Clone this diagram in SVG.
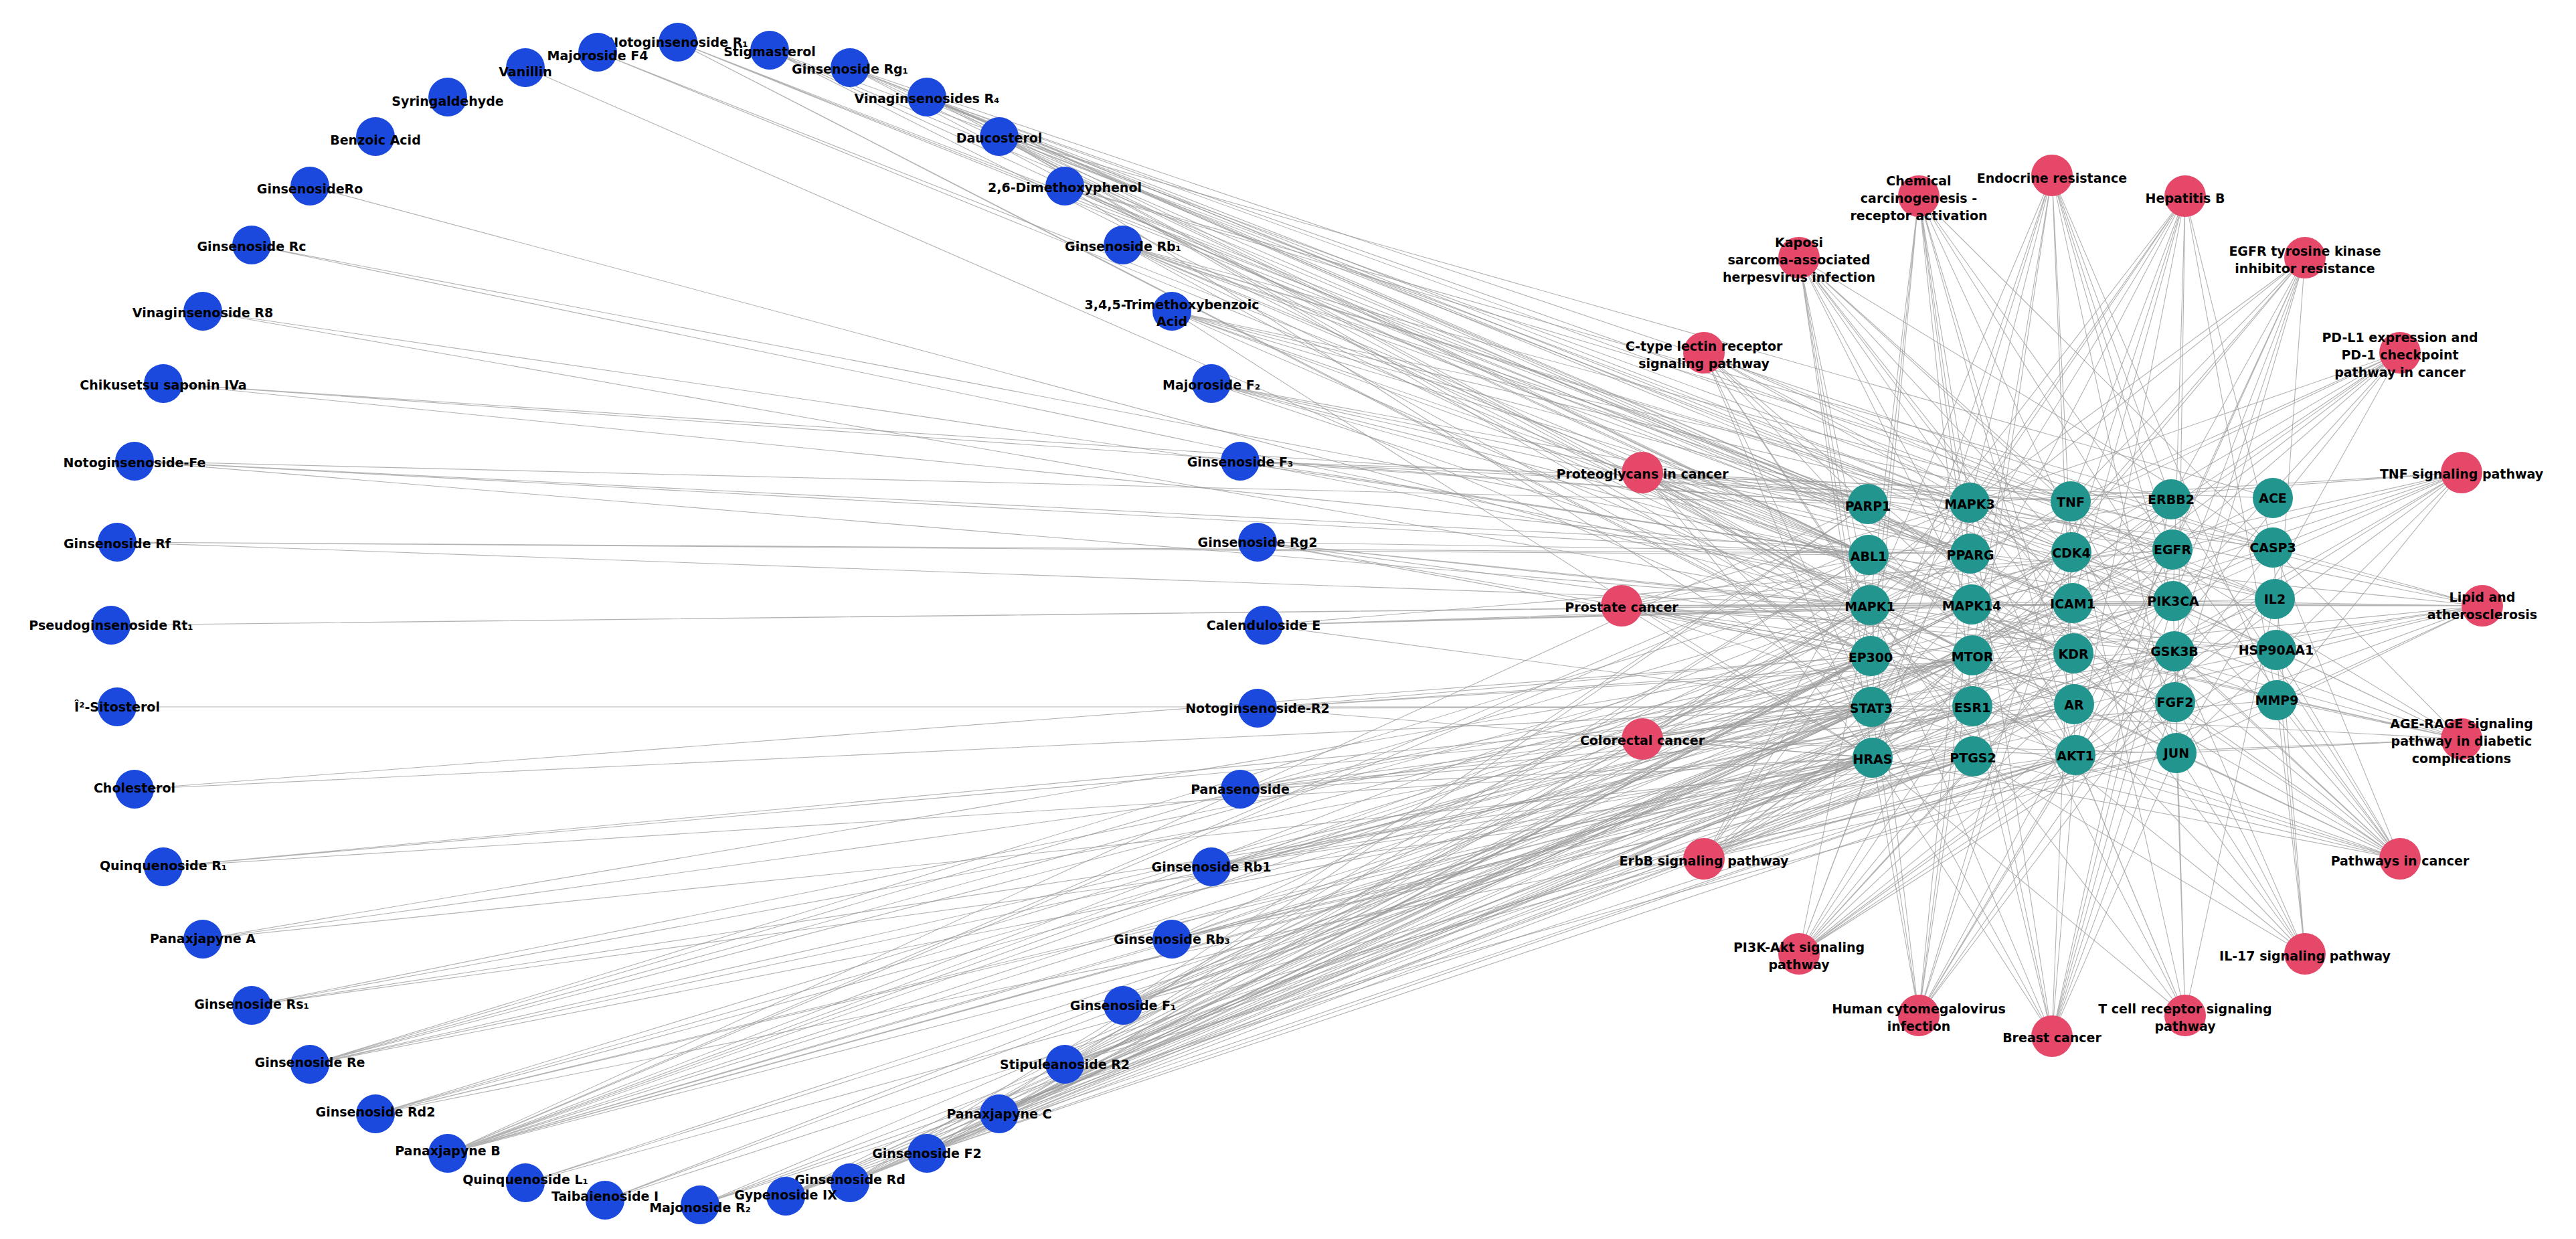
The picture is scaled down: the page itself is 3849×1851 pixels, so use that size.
<svg xmlns="http://www.w3.org/2000/svg" width="3849" height="1851" viewBox="0 0 3849 1851">
<style>
.e{stroke:#9a9a9a;stroke-width:1.1;fill:none;opacity:.75}
.c{fill:#1b48dd}
.t{fill:#22958f}
.p{fill:#e6486a}
text{font-family:"DejaVu Sans",Verdana,sans-serif;font-weight:bold;font-size:19px;fill:#000;text-anchor:middle;dominant-baseline:central}
</style>
<rect width="3849" height="1851" fill="#fff"/>
<g id="connectors">
<path class="e" d="M2791 753L1013 63 2944 827M3097 901L1013 63 2795 980M2947 1055L1013 63"/>
<path class="e" d="M2792 829L1150 75 2944 827M3099 1052L1150 75 3399 895"/>
<path class="e" d="M2791 753L1270 101 2794 904M2943 751L1270 101 2946 903M3095 825L1270 101 3098 976M3247 898L1270 101 3396 818"/>
<path class="e" d="M2791 753L1385 145 2792 829M2944 827L1385 145 2947 979M3094 749L1385 145 3097 901M3246 821L1385 145 3401 971"/>
<path class="e" d="M2792 829L1493 204 2794 904M2943 751L1493 204 2947 1055M3095 825L1493 204 3101 1128M3249 973L1493 204 3396 744"/>
<path class="e" d="M2791 753L1591 278 2946 903M3097 901L1591 278 3244 746M2796 1056L1591 278 3396 818"/>
<path class="e" d="M2791 753L1678 366 2792 829M2794 904L1678 366 2943 751M2944 827L1678 366 3094 749M3098 976L1678 366 3247 898M3399 895L1678 366 2795 980"/>
<path class="e" d="M2792 829L1751 465 2944 827M2946 903L1751 465 3095 825M3099 1052L1751 465 3246 821M3396 818L1751 465 2798 1132"/>
<path class="e" d="M2791 753L1810 573 2794 904M2944 827L1810 573 3097 901M3249 973L1810 573 3399 895"/>
<path class="e" d="M2791 753L1853 689 2792 829M2946 903L1853 689 3094 749M3247 898L1853 689 3396 744"/>
<path class="e" d="M2794 904L1879 810 2795 980M2944 827L1879 810 3098 976M3250 1049L1879 810 3401 971"/>
<path class="e" d="M2794 904L1888 934 2796 1056M2946 903L1888 934 3097 901M3246 821L1888 934 3399 895"/>
<path class="e" d="M2795 980L1879 1058 2796 1056M2947 1055L1879 1058 3098 976M3249 973L1879 1058 2798 1132"/>
<path class="e" d="M2796 1056L1853 1179 2798 1132M2947 979L1853 1179 3099 1052M3247 898L1853 1179 3402 1046"/>
<path class="e" d="M2795 980L1810 1295 2796 1056M2798 1132L1810 1295 2947 1055M2948 1130L1810 1295 3098 976M3247 898L1810 1295 3401 971"/>
<path class="e" d="M2794 904L1751 1403 2796 1056M2798 1132L1751 1403 2947 979M2948 1130L1751 1403 3099 1052M3101 1128L1751 1403 3250 1049"/>
<path class="e" d="M2791 753L1678 1502 2794 904M2795 980L1678 1502 2796 1056M2798 1132L1678 1502 2946 903M2947 1055L1678 1502 3097 901M3101 1128L1678 1502 3249 973"/>
<path class="e" d="M2792 829L1591 1590 2795 980M2796 1056L1591 1590 2798 1132M2944 827L1591 1590 2947 979M2948 1130L1591 1590 3095 825M3099 1052L1591 1590 3252 1125"/>
<path class="e" d="M2794 904L1493 1664 2795 980M2796 1056L1493 1664 2798 1132M2946 903L1493 1664 2947 1055M2948 1130L1493 1664 3098 976M3246 821L1493 1664 3396 744"/>
<path class="e" d="M2791 753L1385 1723 2795 980M2796 1056L1385 1723 2798 1132M2947 979L1385 1723 2948 1130M3094 749L1385 1723 3101 1128M3244 746L1385 1723 3402 1046"/>
<path class="e" d="M2792 829L1270 1767 2794 904M2796 1056L1270 1767 2798 1132M2946 903L1270 1767 2947 1055M3097 901L1270 1767 3099 1052M3249 973L1270 1767 3396 818"/>
<path class="e" d="M2795 980L1174 1787 2796 1056M2798 1132L1174 1787 2947 979M2948 1130L1174 1787 3101 1128M3247 898L1174 1787 3399 895"/>
<path class="e" d="M2796 1056L1046 1800 2798 1132M2948 1130L1046 1800 3101 1128"/>
<path class="e" d="M2796 1056L904 1793 2948 1130M3098 976L904 1793"/>
<path class="e" d="M2798 1132L785 1767 2947 1055M3101 1128L785 1767"/>
<path class="e" d="M2791 753L669 1723 2792 829M2794 904L669 1723 2795 980M2796 1056L669 1723 2798 1132M2943 751L669 1723 2946 903M2947 979L669 1723 2947 1055M2948 1130L669 1723 3095 825M3099 1052L669 1723 3249 973"/>
<path class="e" d="M2795 980L561 1664 2796 1056M2798 1132L561 1664 2947 979M3099 1052L561 1664 3252 1125"/>
<path class="e" d="M2794 904L463 1590 2795 980M2796 1056L463 1590 2798 1132M2944 827L463 1590 2947 1055M3097 901L463 1590 3246 821"/>
<path class="e" d="M2796 1056L376 1502 2798 1132M2947 979L376 1502 3101 1128"/>
<path class="e" d="M2795 980L303 1403 2796 1056M2948 1130L303 1403"/>
<path class="e" d="M2796 1056L244 1295 2798 1132M2947 1055L244 1295"/>
<path class="e" d="M2795 980L201 1179 2796 1056"/>
<path class="e" d="M175 1056L2796 1056"/>
<path class="e" d="M2794 904L166 934 2946 903"/>
<path class="e" d="M2792 829L175 810 2794 904M2944 827L175 810"/>
<path class="e" d="M2791 753L201 689 2792 829M2794 904L201 689 2944 827"/>
<path class="e" d="M2791 753L244 573 2792 829M2943 751L244 573"/>
<path class="e" d="M2792 829L303 465 2794 904"/>
<path class="e" d="M2792 829L376 366 2946 903"/>
<path class="e" d="M463 278L2794 904"/>
<path class="e" d="M785 101L2795 980"/>
<path class="e" d="M2792 829L893 78 3098 976"/>
<path class="e" d="M2794 904L3066 262 2798 1132M2943 751L3066 262 2947 979M2947 1055L3066 262 3101 1128M3244 746L3066 262 3246 821M3247 898L3066 262 3252 1125M3402 1046L3066 262 2796 1056M3095 825L3066 262"/>
<path class="e" d="M2794 904L3265 293 2796 1056M2795 980L3265 293 2943 751M2946 903L3265 293 3094 749M3095 825L3265 293 3101 1128M3247 898L3265 293 3252 1125M3396 818L3265 293 3402 1046M3097 901L3265 293"/>
<path class="e" d="M2794 904L3444 385 2796 1056M2798 1132L3444 385 2943 751M2947 979L3444 385 3101 1128M3244 746L3444 385 3246 821M3247 898L3444 385 3249 973M3250 1049L3444 385 3401 971"/>
<path class="e" d="M2794 904L3586 527 2796 1056M2798 1132L3586 527 2943 751M2946 903L3586 527 2947 979M3101 1128L3586 527 3246 821M3247 898L3586 527 3252 1125M3094 749L3586 527"/>
<path class="e" d="M2794 904L3678 706 2943 751M2946 903L3678 706 2948 1130M3094 749L3678 706 3097 901M3101 1128L3678 706 3247 898M3249 973L3678 706 3252 1125M3396 818L3678 706 3402 1046"/>
<path class="e" d="M2794 904L3709 905 2796 1056M2798 1132L3709 905 2943 751M2944 827L3709 905 2946 903M2947 979L3709 905 3094 749M3097 901L3709 905 3101 1128M3247 898L3709 905 3249 973M3252 1125L3709 905 3396 818M3401 971L3709 905 3402 1046"/>
<path class="e" d="M2794 904L3678 1104 2796 1056M2943 751L3678 1104 2946 903M3094 749L3678 1104 3097 901M3101 1128L3678 1104 3247 898M3252 1125L3678 1104 3396 818M3402 1046L3678 1104 3098 976"/>
<path class="e" d="M2791 753L3586 1283 2792 829M2794 904L3586 1283 2796 1056M2798 1132L3586 1283 2943 751M2947 1055L3586 1283 2948 1130M3095 825L3586 1283 3099 1052M3101 1128L3586 1283 3244 746M3246 821L3586 1283 3247 898M3249 973L3586 1283 3250 1049M3252 1125L3586 1283 3396 818M3401 971L3586 1283 3402 1046"/>
<path class="e" d="M2794 904L3444 1425 2943 751M2946 903L3444 1425 2948 1130M3094 749L3444 1425 3249 973M3252 1125L3444 1425 3396 818M3402 1046L3444 1425 3401 971"/>
<path class="e" d="M2794 904L3265 1517 2798 1132M2943 751L3265 1517 2946 903M3094 749L3265 1517 3101 1128M3247 898L3265 1517 3252 1125M3399 895L3265 1517"/>
<path class="e" d="M2794 904L3066 1548 2796 1056M2798 1132L3066 1548 2943 751M2947 979L3066 1548 2947 1055M3095 825L3066 1548 3101 1128M3244 746L3066 1548 3246 821M3247 898L3066 1548 3249 973M3250 1049L3066 1548 3252 1125"/>
<path class="e" d="M2794 904L2867 1517 2796 1056M2798 1132L2867 1517 2943 751M2946 903L2867 1517 2947 979M3094 749L2867 1517 3095 825M3101 1128L2867 1517 3246 821M3247 898L2867 1517 3249 973M3396 818L2867 1517"/>
<path class="e" d="M2798 1132L2688 1425 2943 751M2947 979L2688 1425 3095 825M3098 976L2688 1425 3101 1128M3244 746L2688 1425 3246 821M3247 898L2688 1425 3249 973M3250 1049L2688 1425 3399 895M3401 971L2688 1425 2794 904"/>
<path class="e" d="M2792 829L2546 1283 2794 904M2798 1132L2546 1283 2943 751M2947 979L2546 1283 3101 1128M3244 746L2546 1283 3246 821M3247 898L2546 1283 3249 973M3252 1125L2546 1283 2796 1056"/>
<path class="e" d="M2794 904L2454 1104 2798 1132M2943 751L2454 1104 2947 979M3101 1128L2454 1104 3247 898M3249 973L2454 1104 3252 1125M3396 818L2454 1104 2796 1056"/>
<path class="e" d="M2794 904L2423 905 2798 1132M2943 751L2423 905 2947 979M3099 1052L2423 905 3101 1128M3244 746L2423 905 3246 821M3247 898L2423 905 3249 973M3250 1049L2423 905 3401 971M2795 980L2423 905"/>
<path class="e" d="M2794 904L2454 706 2796 1056M2798 1132L2454 706 2943 751M2947 979L2454 706 2947 1055M3094 749L2454 706 3098 976M3101 1128L2454 706 3244 746M3246 821L2454 706 3247 898M3250 1049L2454 706 3396 818M3402 1046L2454 706"/>
<path class="e" d="M2794 904L2546 527 2796 1056M2798 1132L2546 527 2943 751M2946 903L2546 527 3094 749M3101 1128L2546 527 3247 898M3252 1125L2546 527 3399 895M2948 1130L2546 527"/>
<path class="e" d="M2794 904L2688 385 2796 1056M2798 1132L2688 385 2943 751M2946 903L2688 385 3094 749M3095 825L2688 385 3097 901M3101 1128L2688 385 3247 898M3252 1125L2688 385 3396 818M2795 980L2688 385"/>
<path class="e" d="M2794 904L2867 293 2796 1056M2795 980L2867 293 2943 751M2946 903L2867 293 2947 1055M2944 827L2867 293 3099 1052M3101 1128L2867 293 3246 821M3247 898L2867 293 3252 1125M3396 818L2867 293"/>
</g>
<g id="compounds">
<g id="n-notoginsenoside-r1"><circle class="c" cx="1013" cy="63" r="29"/><text x="1013" y="63">Notoginsenoside R₁</text></g>
<g id="n-stigmasterol"><circle class="c" cx="1150" cy="75" r="29"/><text x="1150" y="77">Stigmasterol</text></g>
<g id="n-ginsenoside-rg1"><circle class="c" cx="1270" cy="101" r="29"/><text x="1270" y="103">Ginsenoside Rg₁</text></g>
<g id="n-vinaginsenosides-r4"><circle class="c" cx="1385" cy="145" r="29"/><text x="1385" y="147">Vinaginsenosides R₄</text></g>
<g id="n-daucosterol"><circle class="c" cx="1493" cy="204" r="29"/><text x="1493" y="206">Daucosterol</text></g>
<g id="n-dimethoxyphenol"><circle class="c" cx="1591" cy="278" r="29"/><text x="1591" y="280">2,6-Dimethoxyphenol</text></g>
<g id="n-ginsenoside-rb1-sub"><circle class="c" cx="1678" cy="366" r="29"/><text x="1678" y="368">Ginsenoside Rb₁</text></g>
<g id="n-trimethoxybenzoic-acid"><circle class="c" cx="1751" cy="465" r="29"/><text x="1751" y="467"><tspan x="1751" dy="-12">3,4,5-Trimethoxybenzoic</tspan><tspan x="1751" dy="25">Acid</tspan></text></g>
<g id="n-majoroside-f2"><circle class="c" cx="1810" cy="573" r="29"/><text x="1810" y="575">Majoroside F₂</text></g>
<g id="n-ginsenoside-f3"><circle class="c" cx="1853" cy="689" r="29"/><text x="1853" y="690">Ginsenoside F₃</text></g>
<g id="n-ginsenoside-rg2"><circle class="c" cx="1879" cy="810" r="29"/><text x="1879" y="810">Ginsenoside Rg2</text></g>
<g id="n-calenduloside-e"><circle class="c" cx="1888" cy="934" r="29"/><text x="1888" y="934">Calenduloside E</text></g>
<g id="n-notoginsenoside-r2"><circle class="c" cx="1879" cy="1058" r="29"/><text x="1879" y="1058">Notoginsenoside-R2</text></g>
<g id="n-panasenoside"><circle class="c" cx="1853" cy="1179" r="29"/><text x="1853" y="1179">Panasenoside</text></g>
<g id="n-ginsenoside-rb1"><circle class="c" cx="1810" cy="1295" r="29"/><text x="1810" y="1295">Ginsenoside Rb1</text></g>
<g id="n-ginsenoside-rb3"><circle class="c" cx="1751" cy="1403" r="29"/><text x="1751" y="1403">Ginsenoside Rb₃</text></g>
<g id="n-ginsenoside-f1"><circle class="c" cx="1678" cy="1502" r="29"/><text x="1678" y="1502">Ginsenoside F₁</text></g>
<g id="n-stipuleanoside-r2"><circle class="c" cx="1591" cy="1590" r="29"/><text x="1591" y="1590">Stipuleanoside R2</text></g>
<g id="n-panaxjapyne-c"><circle class="c" cx="1493" cy="1664" r="29"/><text x="1493" y="1664">Panaxjapyne C</text></g>
<g id="n-ginsenoside-f2"><circle class="c" cx="1385" cy="1723" r="29"/><text x="1385" y="1723">Ginsenoside F2</text></g>
<g id="n-ginsenoside-rd"><circle class="c" cx="1270" cy="1767" r="29"/><text x="1270" y="1762">Ginsenoside Rd</text></g>
<g id="n-gypenoside-ix"><circle class="c" cx="1174" cy="1787" r="29"/><text x="1174" y="1785">Gypenoside IX</text></g>
<g id="n-majonoside-r2"><circle class="c" cx="1046" cy="1800" r="29"/><text x="1046" y="1804">Majonoside R₂</text></g>
<g id="n-taibaienoside-i"><circle class="c" cx="904" cy="1793" r="29"/><text x="904" y="1787">Taibaienoside I</text></g>
<g id="n-quinquenoside-l1"><circle class="c" cx="785" cy="1767" r="29"/><text x="785" y="1762">Quinquenoside L₁</text></g>
<g id="n-panaxjapyne-b"><circle class="c" cx="669" cy="1723" r="29"/><text x="669" y="1719">Panaxjapyne B</text></g>
<g id="n-ginsenoside-rd2"><circle class="c" cx="561" cy="1664" r="29"/><text x="561" y="1661">Ginsenoside Rd2</text></g>
<g id="n-ginsenoside-re"><circle class="c" cx="463" cy="1590" r="29"/><text x="463" y="1587">Ginsenoside Re</text></g>
<g id="n-ginsenoside-rs1"><circle class="c" cx="376" cy="1502" r="29"/><text x="376" y="1500">Ginsenoside Rs₁</text></g>
<g id="n-panaxjapyne-a"><circle class="c" cx="303" cy="1403" r="29"/><text x="303" y="1402">Panaxjapyne A</text></g>
<g id="n-quinquenoside-r1"><circle class="c" cx="244" cy="1295" r="29"/><text x="244" y="1293">Quinquenoside R₁</text></g>
<g id="n-cholesterol"><circle class="c" cx="201" cy="1179" r="29"/><text x="201" y="1177">Cholesterol</text></g>
<g id="n-sitosterol"><circle class="c" cx="175" cy="1056" r="29"/><text x="175" y="1056">Î²-Sitosterol</text></g>
<g id="n-pseudoginsenoside-rt1"><circle class="c" cx="166" cy="934" r="29"/><text x="166" y="934">Pseudoginsenoside Rt₁</text></g>
<g id="n-ginsenoside-rf"><circle class="c" cx="175" cy="810" r="29"/><text x="175" y="812">Ginsenoside Rf</text></g>
<g id="n-notoginsenoside-fe"><circle class="c" cx="201" cy="689" r="29"/><text x="201" y="691">Notoginsenoside-Fe</text></g>
<g id="n-chikusetsu-saponin-iva"><circle class="c" cx="244" cy="573" r="29"/><text x="244" y="575">Chikusetsu saponin IVa</text></g>
<g id="n-vinaginsenoside-r8"><circle class="c" cx="303" cy="465" r="29"/><text x="303" y="467">Vinaginsenoside R8</text></g>
<g id="n-ginsenoside-rc"><circle class="c" cx="376" cy="366" r="29"/><text x="376" y="368">Ginsenoside Rc</text></g>
<g id="n-ginsenoside-ro"><circle class="c" cx="463" cy="278" r="29"/><text x="463" y="282">GinsenosideRo</text></g>
<g id="n-benzoic-acid"><circle class="c" cx="561" cy="204" r="29"/><text x="561" y="209">Benzoic Acid</text></g>
<g id="n-syringaldehyde"><circle class="c" cx="669" cy="145" r="29"/><text x="669" y="151">Syringaldehyde</text></g>
<g id="n-vanillin"><circle class="c" cx="785" cy="101" r="29"/><text x="785" y="107">Vanillin</text></g>
<g id="n-majoroside-f4"><circle class="c" cx="893" cy="78" r="29"/><text x="893" y="83">Majoroside F4</text></g>
</g>
<g id="targets">
<g id="n-parp1"><circle class="t" cx="2791" cy="753" r="30"/><text x="2791" y="756">PARP1</text></g>
<g id="n-abl1"><circle class="t" cx="2792" cy="829" r="30"/><text x="2792" y="831">ABL1</text></g>
<g id="n-mapk1"><circle class="t" cx="2794" cy="904" r="30"/><text x="2794" y="906">MAPK1</text></g>
<g id="n-ep300"><circle class="t" cx="2795" cy="980" r="30"/><text x="2795" y="982">EP300</text></g>
<g id="n-stat3"><circle class="t" cx="2796" cy="1056" r="30"/><text x="2796" y="1058">STAT3</text></g>
<g id="n-hras"><circle class="t" cx="2798" cy="1132" r="30"/><text x="2798" y="1134">HRAS</text></g>
<g id="n-mapk3"><circle class="t" cx="2943" cy="751" r="30"/><text x="2943" y="753">MAPK3</text></g>
<g id="n-pparg"><circle class="t" cx="2944" cy="827" r="30"/><text x="2944" y="829">PPARG</text></g>
<g id="n-mapk14"><circle class="t" cx="2946" cy="903" r="30"/><text x="2946" y="905">MAPK14</text></g>
<g id="n-mtor"><circle class="t" cx="2947" cy="979" r="30"/><text x="2947" y="981">MTOR</text></g>
<g id="n-esr1"><circle class="t" cx="2947" cy="1055" r="30"/><text x="2947" y="1057">ESR1</text></g>
<g id="n-ptgs2"><circle class="t" cx="2948" cy="1130" r="30"/><text x="2948" y="1132">PTGS2</text></g>
<g id="n-tnf"><circle class="t" cx="3094" cy="749" r="30"/><text x="3094" y="750">TNF</text></g>
<g id="n-cdk4"><circle class="t" cx="3095" cy="825" r="30"/><text x="3095" y="826">CDK4</text></g>
<g id="n-icam1"><circle class="t" cx="3097" cy="901" r="30"/><text x="3097" y="902">ICAM1</text></g>
<g id="n-kdr"><circle class="t" cx="3098" cy="976" r="30"/><text x="3098" y="977">KDR</text></g>
<g id="n-ar"><circle class="t" cx="3099" cy="1052" r="30"/><text x="3099" y="1053">AR</text></g>
<g id="n-akt1"><circle class="t" cx="3101" cy="1128" r="30"/><text x="3101" y="1129">AKT1</text></g>
<g id="n-erbb2"><circle class="t" cx="3244" cy="746" r="30"/><text x="3244" y="746">ERBB2</text></g>
<g id="n-egfr"><circle class="t" cx="3246" cy="821" r="30"/><text x="3246" y="821">EGFR</text></g>
<g id="n-pik3ca"><circle class="t" cx="3247" cy="898" r="30"/><text x="3247" y="898">PIK3CA</text></g>
<g id="n-gsk3b"><circle class="t" cx="3249" cy="973" r="30"/><text x="3249" y="973">GSK3B</text></g>
<g id="n-fgf2"><circle class="t" cx="3250" cy="1049" r="30"/><text x="3250" y="1049">FGF2</text></g>
<g id="n-jun"><circle class="t" cx="3252" cy="1125" r="30"/><text x="3252" y="1125">JUN</text></g>
<g id="n-ace"><circle class="t" cx="3396" cy="744" r="30"/><text x="3396" y="744">ACE</text></g>
<g id="n-casp3"><circle class="t" cx="3396" cy="818" r="30"/><text x="3396" y="818">CASP3</text></g>
<g id="n-il2"><circle class="t" cx="3399" cy="895" r="30"/><text x="3399" y="895">IL2</text></g>
<g id="n-hsp90aa1"><circle class="t" cx="3401" cy="971" r="30"/><text x="3401" y="971">HSP90AA1</text></g>
<g id="n-mmp9"><circle class="t" cx="3402" cy="1046" r="30"/><text x="3402" y="1046">MMP9</text></g>
</g>
<g id="pathways">
<g id="n-endocrine-resistance"><circle class="p" cx="3066" cy="262" r="31"/><text x="3066" y="266">Endocrine resistance</text></g>
<g id="n-hepatitis-b"><circle class="p" cx="3265" cy="293" r="31"/><text x="3265" y="296">Hepatitis B</text></g>
<g id="n-egfr-tki"><circle class="p" cx="3444" cy="385" r="31"/><text x="3444" y="388"><tspan x="3444" dy="-13">EGFR tyrosine kinase</tspan><tspan x="3444" dy="26">inhibitor resistance</tspan></text></g>
<g id="n-pd-l1"><circle class="p" cx="3586" cy="527" r="31"/><text x="3586" y="530"><tspan x="3586" dy="-26">PD-L1 expression and</tspan><tspan x="3586" dy="26">PD-1 checkpoint</tspan><tspan x="3586" dy="26">pathway in cancer</tspan></text></g>
<g id="n-tnf-signaling"><circle class="p" cx="3678" cy="706" r="31"/><text x="3678" y="708">TNF signaling pathway</text></g>
<g id="n-lipid"><circle class="p" cx="3709" cy="905" r="31"/><text x="3709" y="905"><tspan x="3709" dy="-13">Lipid and</tspan><tspan x="3709" dy="26">atherosclerosis</tspan></text></g>
<g id="n-age-rage"><circle class="p" cx="3678" cy="1104" r="31"/><text x="3678" y="1107"><tspan x="3678" dy="-26">AGE-RAGE signaling</tspan><tspan x="3678" dy="26">pathway in diabetic</tspan><tspan x="3678" dy="26">complications</tspan></text></g>
<g id="n-pathways-in-cancer"><circle class="p" cx="3586" cy="1283" r="31"/><text x="3586" y="1286">Pathways in cancer</text></g>
<g id="n-il-17"><circle class="p" cx="3444" cy="1425" r="31"/><text x="3444" y="1428">IL-17 signaling pathway</text></g>
<g id="n-t-cell"><circle class="p" cx="3265" cy="1517" r="31"/><text x="3265" y="1520"><tspan x="3265" dy="-13">T cell receptor signaling</tspan><tspan x="3265" dy="26">pathway</tspan></text></g>
<g id="n-breast-cancer"><circle class="p" cx="3066" cy="1548" r="31"/><text x="3066" y="1550">Breast cancer</text></g>
<g id="n-hcmv"><circle class="p" cx="2867" cy="1517" r="31"/><text x="2867" y="1520"><tspan x="2867" dy="-13">Human cytomegalovirus</tspan><tspan x="2867" dy="26">infection</tspan></text></g>
<g id="n-pi3k-akt"><circle class="p" cx="2688" cy="1425" r="31"/><text x="2688" y="1428"><tspan x="2688" dy="-13">PI3K-Akt signaling</tspan><tspan x="2688" dy="26">pathway</tspan></text></g>
<g id="n-erbb"><circle class="p" cx="2546" cy="1283" r="31"/><text x="2546" y="1286">ErbB signaling pathway</text></g>
<g id="n-colorectal"><circle class="p" cx="2454" cy="1104" r="31"/><text x="2454" y="1106">Colorectal cancer</text></g>
<g id="n-prostate"><circle class="p" cx="2423" cy="905" r="31"/><text x="2423" y="907">Prostate cancer</text></g>
<g id="n-proteoglycans"><circle class="p" cx="2454" cy="706" r="31"/><text x="2454" y="708">Proteoglycans in cancer</text></g>
<g id="n-c-type-lectin"><circle class="p" cx="2546" cy="527" r="31"/><text x="2546" y="530"><tspan x="2546" dy="-13">C-type lectin receptor</tspan><tspan x="2546" dy="26">signaling pathway</tspan></text></g>
<g id="n-kaposi"><circle class="p" cx="2688" cy="385" r="31"/><text x="2688" y="388"><tspan x="2688" dy="-26">Kaposi</tspan><tspan x="2688" dy="26">sarcoma-associated</tspan><tspan x="2688" dy="26">herpesvirus infection</tspan></text></g>
<g id="n-chemical"><circle class="p" cx="2867" cy="293" r="31"/><text x="2867" y="296"><tspan x="2867" dy="-26">Chemical</tspan><tspan x="2867" dy="26">carcinogenesis -</tspan><tspan x="2867" dy="26">receptor activation</tspan></text></g>
</g>
</svg>
